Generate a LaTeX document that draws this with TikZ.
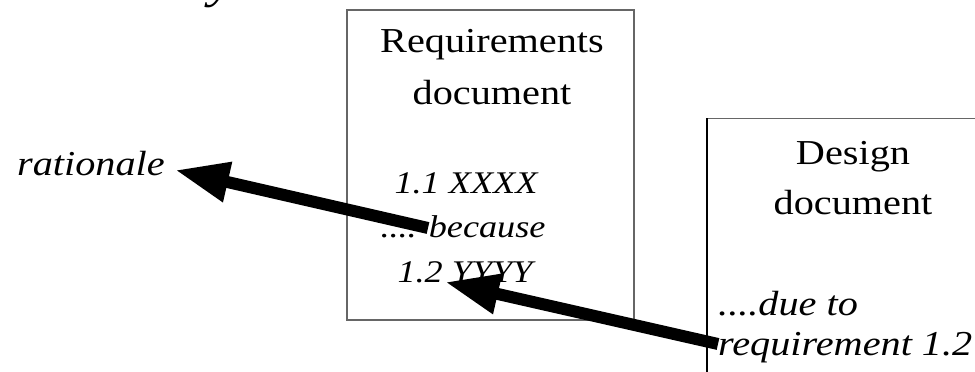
\documentclass[tikz,border=0pt]{standalone}
\usepackage{fontspec}
\setmainfont{Liberation Serif}[FakeStretch=1.15]
\usetikzlibrary{arrows.meta}
\begin{document}
\begin{tikzpicture}[x=1pt,y=1pt,
  txt/.style={inner sep=0pt, anchor=base, font=\fontsize{35}{42}\selectfont},
  itxt/.style={inner sep=0pt, anchor=base, font=\fontsize{35}{42}\selectfont\itshape},
  itxts/.style={inner sep=0pt, anchor=base, font=\fontsize{31.5}{38}\selectfont\itshape},
  itxtl/.style={itxt, anchor=base west},
  docbox/.style={draw=black!60, line width=1.3pt, inner sep=0pt},
  bigarrow/.style={line width=12pt, -{Triangle[length=54pt,width=38pt]}}]
\useasboundingbox (0,0) rectangle (975,-372);
\clip (0,0) rectangle (975,-372);
% clipped title fragment
\node[inner sep=0pt, anchor=base, font=\fontsize{48}{48}\selectfont\itshape] (titley) at (222,2) {y};
% requirements document
\node[docbox, minimum width=287pt, minimum height=310pt] (reqbox) at (490.5,-165) {};
\node[txt] (req1) at (492,-52) {Requirements};
\node[txt] (req2) at (492,-104) {document};
\node[itxts] (r11) at (466,-193) {1.1 XXXX};
\node[itxts] (because) at (463,-237) {.... because};
\node[itxts] (r12) at (465,-282) {1.2 YYYY};
% design document
\node[docbox, minimum width=350pt, minimum height=330pt, anchor=north west] (desbox) at (707,-118) {};
\draw[black, line width=1.3pt] (desbox.north west) -- (desbox.south west);
\node[txt] (des1) at (853,-164) {Design};
\node[txt] (des2) at (853,-214) {document};
\node[itxtl] (due) at (718,-315) {....due to};
\node[itxtl] (reqtxt) at (718,-355) {requirement 1.2};
% rationale
\node[itxtl] (rat) at (17,-175) {rationale};
% arrows
\coordinate (tail1) at (428,-228);
\coordinate (tip1) at (175,-170);
\coordinate (tail2) at (718,-344);
\coordinate (tip2) at (445,-282);
\draw[bigarrow] (tail1) -- (tip1);
\draw[bigarrow] (tail2) -- (tip2);
\end{tikzpicture}
\end{document}
